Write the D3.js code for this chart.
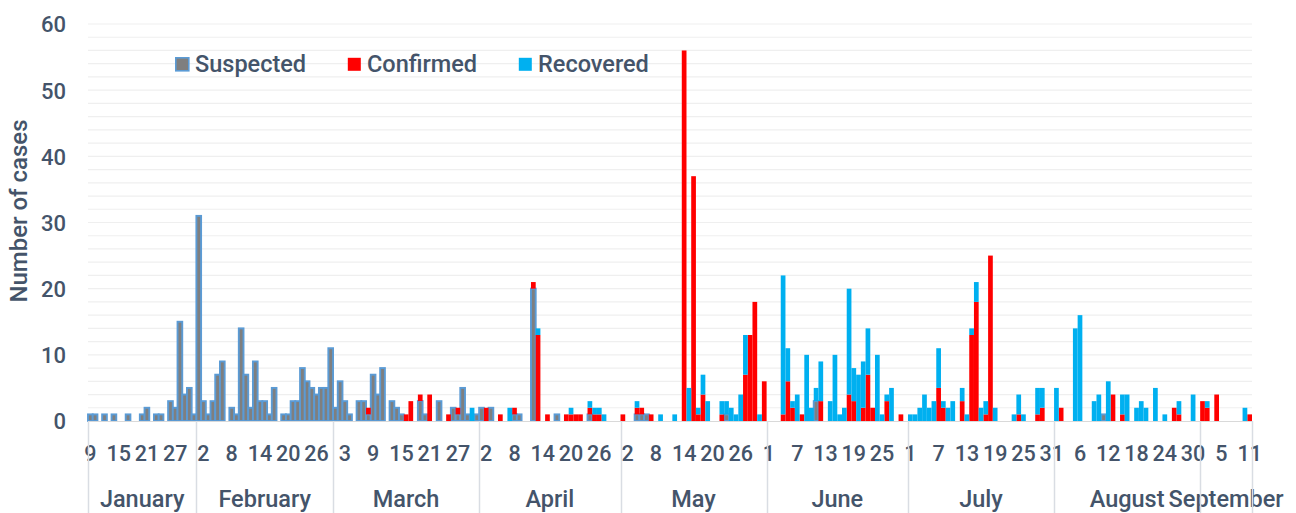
<!DOCTYPE html>
<html><head><meta charset="utf-8">
<script src="https://cdn.jsdelivr.net/npm/d3@7"></script>
<style>
html,body{margin:0;padding:0;background:#fff;}
svg text{font-family:Roboto,"Noto Sans",sans-serif;font-weight:500;fill:#44546a;}
</style></head>
<body><svg id="c" width="1296" height="513"></svg>
<script>
// categories: daily from 2020-01-09 to 2020-09-11
const startDate = "2020-01-09";
const endDate = "2020-09-11";
const monthNames = ["January","February","March","April","May","June","July","August","September"];
const yTicks = [0,10,20,30,40,50,60];
const seriesNames = ["Suspected","Confirmed","Recovered"];
const seriesColors = ["#7f7f7f","#ff0000","#00b0f0"];

// values per month (Jan from the 9th, Sep up to the 11th)
const suspected = [
  1,1,0,1,0,1,0,0,1,0,0,1,2,0,1,1,0,3,2,15,4,5,1,
  31,3,1,3,7,9,0,2,1,14,7,2,9,3,3,1,5,0,1,1,3,3,8,6,5,4,5,5,11,
  2,6,3,1,0,3,3,1,7,4,8,0,3,2,1,0,0,0,3,1,0,0,3,0,0,2,1,5,1,0,1,
  2,0,2,0,0,0,0,1,1,0,0,20,0,0,0,0,1,0,0,0,0,0,0,1,0,0,0,0,0,0,
  0,0,0,1,1,1,0,0,0,0,0,0,0,0,0,0,0,0,0,0,0,0,1,0,0,0,0,0,0,0,0,
  0,0,0,0,0,0,0,0,0,0,3,0,0,0,0,0,0,0,0,0,0,0,0,0,0,0,0,0,0,0,
  0,0,0,0,0,0,0,0,0,0,0,0,0,0,0,0,0,0,0,0,0,0,0,0,0,0,0,0,0,0,0,
  0,0,0,0,0,0,0,0,0,0,1,0,0,0,0,0,0,0,0,0,0,0,0,0,0,0,0,0,0,0,0,
  0,0,0,0,0,0,0,0,0,0,0
];
const confirmed = [
  0,0,0,0,0,0,0,0,0,0,0,0,0,0,0,0,0,0,0,0,0,0,0,
  0,0,0,0,0,0,0,0,0,0,0,0,0,0,0,0,0,0,0,0,0,0,0,0,0,0,0,0,0,
  0,0,0,0,0,0,0,1,0,0,0,0,0,0,0,1,3,0,1,0,4,0,0,0,1,0,1,0,0,0,0,
  0,2,0,0,1,0,0,1,0,0,0,1,13,0,1,0,0,0,1,1,1,1,0,1,1,1,0,0,0,0,
  1,0,0,1,1,0,1,0,0,0,0,0,0,56,0,37,1,4,0,0,0,1,0,0,0,0,7,13,18,0,6,
  0,0,0,1,6,2,0,1,0,0,0,3,0,0,0,0,0,4,3,0,2,7,2,0,0,3,0,0,1,0,
  0,0,0,0,0,0,5,2,0,0,0,3,0,13,18,0,1,25,0,0,0,0,0,1,0,0,0,1,2,0,0,
  0,2,0,0,0,0,0,0,0,0,0,0,4,0,1,0,0,0,0,0,0,0,0,0,0,2,1,0,0,0,0,
  3,2,0,4,0,0,0,0,0,0,1
];
const recovered = [
  0,0,0,0,0,0,0,0,0,0,0,0,0,0,0,0,0,0,0,0,0,0,0,
  0,0,0,0,0,0,0,0,0,0,0,0,0,0,0,0,0,0,0,0,0,0,0,0,0,0,0,0,0,
  0,0,0,0,0,0,0,0,0,0,0,0,0,0,0,0,0,0,0,0,0,0,0,0,0,0,0,0,0,2,0,
  0,0,0,0,0,0,2,0,0,0,0,0,1,0,0,0,0,0,0,1,0,0,0,1,1,1,1,0,0,0,
  0,0,0,1,0,0,0,0,1,0,0,1,0,0,5,0,1,3,3,0,0,2,2,2,1,4,6,0,0,1,0,
  0,0,0,21,5,1,4,0,10,2,2,6,0,3,10,1,2,16,5,7,7,7,0,10,1,1,5,0,0,0,
  1,1,2,4,2,3,6,1,2,3,0,2,1,1,3,2,2,0,2,0,0,0,1,3,1,0,0,4,3,0,0,
  5,0,0,0,14,16,0,0,3,4,0,6,0,0,3,4,0,2,3,2,0,5,0,1,0,0,2,0,0,4,0,
  0,1,0,0,0,0,0,0,0,2,0
];

const parse = d3.timeParse("%Y-%m-%d");
const days = d3.timeDay.range(parse(startDate), d3.timeDay.offset(parse(endDate), 1));
const rows = days.map((d, i) => ({i, date: d, Suspected: suspected[i], Confirmed: confirmed[i], Recovered: recovered[i]}));

const svg = d3.select("#c");
const L = 88, R = 1252, T = 24, B = 421;

const x = d3.scaleBand().domain(rows.map(r => r.i)).range([L, R]).padding(0);
const y = d3.scaleLinear().domain([0, 60]).range([B, T]);

// gridlines every 2
svg.append("g").selectAll("line").data(d3.range(2, 61, 2)).join("line")
  .attr("x1", L).attr("x2", R).attr("y1", d => y(d)).attr("y2", d => y(d))
  .attr("stroke", "#efefef").attr("stroke-width", 1.2);

// y axis labels
const yAxis = d3.axisLeft(y).tickValues(yTicks).tickSize(0).tickPadding(0);
const ga = svg.append("g").attr("transform", `translate(${L - 22},0)`).call(yAxis);
ga.select(".domain").remove();
ga.selectAll("text").attr("font-size", 22).attr("fill", "#44546a").attr("font-family", "Roboto").attr("dy", "0.36em");

// stacked bars
const stack = d3.stack().keys(seriesNames);
const layers = stack(rows);
const color = d3.scaleOrdinal().domain(seriesNames).range(seriesColors);
svg.append("g").selectAll("g").data(layers).join("g")
  .attr("fill", d => color(d.key))
  .each(function(layer) {
    const g = d3.select(this);
    g.selectAll("rect").data(layer.filter(p => p[1] > p[0])).join("rect")
      .attr("x", p => x(p.data.i))
      .attr("width", x.bandwidth())
      .attr("y", p => y(p[1]))
      .attr("height", p => y(p[0]) - y(p[1]))
      .attr("stroke", layer.key === "Suspected" ? "#5b9bd5" : "none")
      .attr("stroke-width", layer.key === "Suspected" ? 1.9 : 0);
  });

// x axis line
svg.append("line").attr("x1", L).attr("x2", R).attr("y1", B + 0.5).attr("y2", B + 0.5)
  .attr("stroke", "#d9d9d9").attr("stroke-width", 1);

// day tick labels (every 6 days)
const xAxis = d3.axisBottom(x).tickValues(rows.filter(r => r.i % 6 === 0).map(r => r.i))
  .tickFormat(i => rows[i].date.getDate()).tickSize(0).tickPadding(0);
const gx = svg.append("g").attr("transform", `translate(0,${B})`).call(xAxis);
gx.select(".domain").remove();
gx.selectAll("text").attr("font-size", 21.5).attr("fill", "#44546a").attr("font-family", "Roboto").attr("y", 40).attr("dy", 0);

// month groups
const months = d3.groups(rows, r => r.date.getMonth());
const bounds = [];
months.forEach(([m, rs], k) => {
  const x0 = x(rs[0].i), x1 = x(rs[rs.length - 1].i) + x.bandwidth();
  bounds.push(x0);
  if (k === months.length - 1) bounds.push(x1);
  svg.append("text").attr("x", (x0 + x1) / 2).attr("y", 507).attr("text-anchor", "middle")
    .attr("font-size", 23.5).text(monthNames[k]);
});
svg.append("g").selectAll("line").data(bounds).join("line")
  .attr("x1", d => Math.round(d) + 0.5).attr("x2", d => Math.round(d) + 0.5)
  .attr("y1", B).attr("y2", 513).attr("stroke", "#d9dde3").attr("stroke-width", 1.5);

// y title
svg.append("text").attr("transform", "translate(27,211) rotate(-90)").attr("text-anchor", "middle")
  .attr("font-size", 24).text("Number of cases");

// legend
const legX = [175, 347, 518];
const lg = svg.append("g").selectAll("g").data(seriesNames).join("g")
  .attr("transform", (d, i) => `translate(${legX[i]},57)`);
lg.append("rect").attr("x", 0.8).attr("y", 0.8).attr("width", 13).attr("height", 13)
  .attr("fill", d => color(d))
  .attr("stroke", d => d === "Suspected" ? "#5b9bd5" : "none").attr("stroke-width", 1.6);
lg.append("text").attr("x", 20).attr("y", 15).attr("font-size", 23.5).text(d => d);
</script></body></html>
